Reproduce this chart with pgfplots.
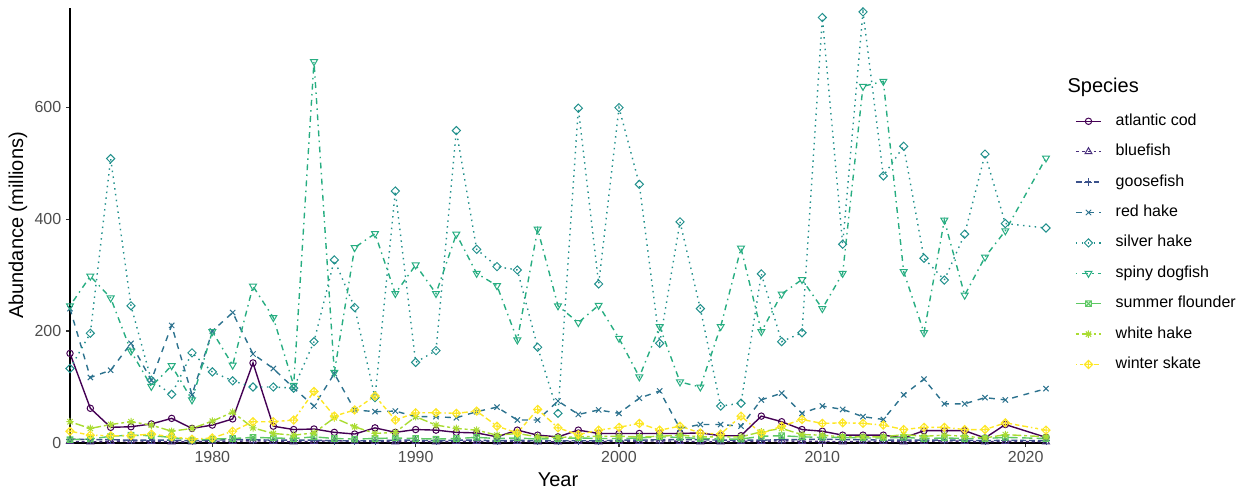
\documentclass[border=0pt]{standalone}
\usepackage{fontspec}
\setmainfont{Liberation Sans}
\usepackage{pgfplots}
\pgfplotsset{compat=1.18}
\usetikzlibrary{plotmarks}

\definecolor{c1}{HTML}{440154}
\definecolor{c2}{HTML}{472D7B}
\definecolor{c3}{HTML}{3B528B}
\definecolor{c4}{HTML}{2C728E}
\definecolor{c5}{HTML}{21908C}
\definecolor{c6}{HTML}{27AD81}
\definecolor{c7}{HTML}{5DC863}
\definecolor{c8}{HTML}{AADC32}
\definecolor{c9}{HTML}{FDE725}
\definecolor{tickgray}{HTML}{4D4D4D}

\pgfdeclareplotmark{boxx}{%
  \pgfpathrectangle{\pgfpoint{-0.8\pgfplotmarksize}{-0.8\pgfplotmarksize}}{\pgfpoint{1.6\pgfplotmarksize}{1.6\pgfplotmarksize}}%
  \pgfpathmoveto{\pgfpoint{-0.8\pgfplotmarksize}{-0.8\pgfplotmarksize}}%
  \pgfpathlineto{\pgfpoint{0.8\pgfplotmarksize}{0.8\pgfplotmarksize}}%
  \pgfpathmoveto{\pgfpoint{-0.8\pgfplotmarksize}{0.8\pgfplotmarksize}}%
  \pgfpathlineto{\pgfpoint{0.8\pgfplotmarksize}{-0.8\pgfplotmarksize}}%
  \pgfusepathqstroke}
\pgfdeclareplotmark{ggdiamond}{%
  \pgfpathmoveto{\pgfpoint{0pt}{1.1\pgfplotmarksize}}%
  \pgfpathlineto{\pgfpoint{1.1\pgfplotmarksize}{0pt}}%
  \pgfpathlineto{\pgfpoint{0pt}{-1.1\pgfplotmarksize}}%
  \pgfpathlineto{\pgfpoint{-1.1\pgfplotmarksize}{0pt}}%
  \pgfpathclose
  \pgfusepathqstroke}
\pgfdeclareplotmark{diamondplus}{%
  \pgfpathmoveto{\pgfpoint{0pt}{1.1\pgfplotmarksize}}%
  \pgfpathlineto{\pgfpoint{1.1\pgfplotmarksize}{0pt}}%
  \pgfpathlineto{\pgfpoint{0pt}{-1.1\pgfplotmarksize}}%
  \pgfpathlineto{\pgfpoint{-1.1\pgfplotmarksize}{0pt}}%
  \pgfpathclose
  \pgfpathmoveto{\pgfpoint{0pt}{1.1\pgfplotmarksize}}%
  \pgfpathlineto{\pgfpoint{0pt}{-1.1\pgfplotmarksize}}%
  \pgfpathmoveto{\pgfpoint{-1.1\pgfplotmarksize}{0pt}}%
  \pgfpathlineto{\pgfpoint{1.1\pgfplotmarksize}{0pt}}%
  \pgfusepathqstroke}
\pgfdeclareplotmark{star8}{%
  \pgfpathmoveto{\pgfpoint{0pt}{\pgfplotmarksize}}%
  \pgfpathlineto{\pgfpoint{0pt}{-\pgfplotmarksize}}%
  \pgfpathmoveto{\pgfpoint{-\pgfplotmarksize}{0pt}}%
  \pgfpathlineto{\pgfpoint{\pgfplotmarksize}{0pt}}%
  \pgfpathmoveto{\pgfpoint{-0.71\pgfplotmarksize}{-0.71\pgfplotmarksize}}%
  \pgfpathlineto{\pgfpoint{0.71\pgfplotmarksize}{0.71\pgfplotmarksize}}%
  \pgfpathmoveto{\pgfpoint{-0.71\pgfplotmarksize}{0.71\pgfplotmarksize}}%
  \pgfpathlineto{\pgfpoint{0.71\pgfplotmarksize}{-0.71\pgfplotmarksize}}%
  \pgfusepathqstroke}

\begin{document}
\begin{tikzpicture}
\begin{axis}[
  at={(0pt,0pt)}, anchor=south west,
  scale only axis, width=732pt, height=326.25pt,
  xmin=1973, xmax=2021, ymin=0, ymax=777,
  axis lines*=left,
  axis line style={-, black, line width=1pt},
  xtick={1980,1990,2000,2010,2020},
  ytick={0,200,400,600},
  tick align=outside, major tick length=3pt,
  tick style={color=black!80, line width=0.8pt},
  /pgf/number format/assume math mode=true,
  /pgf/number format/1000 sep={},
  ticklabel style={font=\fontsize{12}{14}\selectfont, text=tickgray},
  xlabel={Year}, ylabel={Abundance (millions)},
  every axis x label/.style={at={(axis description cs:0.5,-0.085)}, anchor=center, font=\fontsize{15}{18}\selectfont},
  every axis y label/.style={at={(axis description cs:-0.0533,0.5)}, rotate=90, anchor=center, font=\fontsize{15}{18}\selectfont},
  every axis plot/.append style={line width=1.05pt, mark size=2.6pt},
  legend image code/.code={\draw[mark repeat=2,mark phase=2] plot coordinates {(0pt,0pt)(9.4pt,0pt)(18.8pt,0pt)};},
  legend cell align=left,
  legend style={at={(axis description cs:1.0297,0.757)}, anchor=north west, draw=none, fill=none,
    inner sep=0pt, font=\fontsize{12}{14}\selectfont, row sep=11.8pt, column sep=10.5pt,
    nodes={inner sep=0pt, text height=8.5pt, text depth=2.5pt}},
]
% atlantic cod
\addplot[c1, solid, mark=o, mark options={solid, line width=0.75pt}, mark size=2.4pt] coordinates {
(1973,160)(1974,62)(1975,28)(1976,29)(1977,34)(1978,44)(1979,26)(1980,32)(1981,43)(1982,143)
(1983,30)(1984,24)(1985,25)(1986,19)(1987,16)(1988,27)(1989,19)(1990,24)(1991,23)(1992,19)
(1993,18)(1994,11)(1995,23)(1996,14)(1997,11)(1998,23)(1999,17)(2000,17)(2001,17)(2002,17)
(2003,17)(2004,18)(2005,13)(2006,13)(2007,48)(2008,38)(2009,24)(2010,21)(2011,14)(2012,14)
(2013,14)(2014,9)(2015,22)(2016,22)(2017,22)(2018,9)(2019,33)(2021,10)};
\addlegendentry{atlantic cod}
% bluefish
\addplot[c2, dash pattern=on 2.2pt off 2.2pt, mark=triangle, mark options={solid, line width=0.75pt}, mark size=3pt] coordinates {
(1973,3)(1974,2)(1975,3)(1976,4)(1977,3)(1978,2)(1979,2)(1980,3)(1981,3)(1982,4)
(1983,3)(1984,2)(1985,3)(1986,4)(1987,3)(1988,3)(1989,2)(1990,3)(1991,2)(1992,3)
(1993,3)(1994,2)(1995,3)(1996,2)(1997,2)(1998,3)(1999,2)(2000,3)(2001,3)(2002,4)
(2003,3)(2004,2)(2005,2)(2006,3)(2007,3)(2008,4)(2009,3)(2010,3)(2011,2)(2012,3)
(2013,3)(2014,2)(2015,3)(2016,4)(2017,3)(2018,2)(2019,3)(2021,2)};
\addlegendentry{bluefish}
% goosefish
\addplot[c3, dash pattern=on 4.4pt off 2.2pt, mark=+, mark options={solid, line width=0.75pt}, mark size=3pt] coordinates {
(1973,7)(1974,6)(1975,6)(1976,5)(1977,5)(1978,5)(1979,4)(1980,5)(1981,6)(1982,6)
(1983,5)(1984,5)(1985,5)(1986,4)(1987,4)(1988,4)(1989,5)(1990,5)(1991,4)(1992,5)
(1993,5)(1994,4)(1995,5)(1996,4)(1997,4)(1998,4)(1999,4)(2000,5)(2001,5)(2002,6)
(2003,6)(2004,6)(2005,5)(2006,5)(2007,5)(2008,6)(2009,6)(2010,7)(2011,6)(2012,6)
(2013,5)(2014,5)(2015,5)(2016,5)(2017,5)(2018,4)(2019,5)(2021,4)};
\addlegendentry{goosefish}
% red hake
\addplot[c4, dash pattern=on 4.4pt off 4.4pt, mark=x, mark options={solid, line width=0.75pt}, mark size=2.8pt] coordinates {
(1973,240)(1974,117)(1975,130)(1976,178)(1977,112)(1978,210)(1979,86)(1980,200)(1981,233)(1982,159)
(1983,133)(1984,98)(1985,66)(1986,124)(1987,59)(1988,56)(1989,57)(1990,47)(1991,47)(1992,45)
(1993,56)(1994,64)(1995,41)(1996,41)(1997,75)(1998,51)(1999,59)(2000,53)(2001,80)(2002,93)
(2003,26)(2004,33)(2005,33)(2006,30)(2007,77)(2008,89)(2009,53)(2010,66)(2011,60)(2012,47)
(2013,42)(2014,86)(2015,114)(2016,70)(2017,70)(2018,81)(2019,77)(2021,97)};
\addlegendentry{red hake}
% silver hake
\addplot[c5, dash pattern=on 1.1pt off 3.3pt, mark=ggdiamond, mark options={solid, line width=0.75pt}, mark size=2.8pt] coordinates {
(1973,133)(1974,196)(1975,508)(1976,245)(1977,112)(1978,87)(1979,161)(1980,127)(1981,111)(1982,100)
(1983,100)(1984,98)(1985,181)(1986,327)(1987,242)(1988,81)(1989,450)(1990,144)(1991,165)(1992,558)
(1993,346)(1994,315)(1995,309)(1996,171)(1997,53)(1998,598)(1999,284)(2000,599)(2001,462)(2002,178)
(2003,395)(2004,240)(2005,66)(2006,71)(2007,302)(2008,181)(2009,197)(2010,760)(2011,355)(2012,770)
(2013,477)(2014,530)(2015,330)(2016,291)(2017,373)(2018,516)(2019,392)(2021,384)};
\addlegendentry{silver hake}
% spiny dogfish
\addplot[c6, dash pattern=on 1.1pt off 3.3pt on 4.4pt off 3.3pt, mark=triangle, mark options={solid, rotate=180, line width=0.75pt}, mark size=3pt] coordinates {
(1973,245)(1974,298)(1975,259)(1976,164)(1977,101)(1978,138)(1979,77)(1980,199)(1981,139)(1982,280)
(1983,224)(1984,103)(1985,681)(1986,126)(1987,349)(1988,374)(1989,267)(1990,318)(1991,267)(1992,373)
(1993,303)(1994,281)(1995,184)(1996,382)(1997,245)(1998,215)(1999,246)(2000,187)(2001,118)(2002,208)
(2003,109)(2004,100)(2005,208)(2006,348)(2007,199)(2008,266)(2009,292)(2010,240)(2011,303)(2012,637)
(2013,646)(2014,306)(2015,197)(2016,398)(2017,264)(2018,332)(2019,379)(2021,509)};
\addlegendentry{spiny dogfish}
% summer flounder
\addplot[c7, dash pattern=on 7.7pt off 3.3pt, mark=boxx, mark options={solid, line width=0.75pt}, mark size=2.6pt] coordinates {
(1973,6)(1974,7)(1975,12)(1976,14)(1977,13)(1978,10)(1979,5)(1980,7)(1981,8)(1982,10)
(1983,9)(1984,8)(1985,11)(1986,8)(1987,7)(1988,8)(1989,9)(1990,8)(1991,7)(1992,8)
(1993,10)(1994,8)(1995,9)(1996,7)(1997,8)(1998,9)(1999,8)(2000,8)(2001,9)(2002,11)
(2003,10)(2004,8)(2005,7)(2006,7)(2007,12)(2008,13)(2009,11)(2010,10)(2011,10)(2012,9)
(2013,9)(2014,10)(2015,8)(2016,9)(2017,8)(2018,8)(2019,10)(2021,8)};
\addlegendentry{summer flounder}
% white hake
\addplot[c8, dash pattern=on 2.2pt off 2.2pt on 6.6pt off 2.2pt, mark=star8, mark options={solid, line width=0.75pt}, mark size=2.8pt] coordinates {
(1973,38)(1974,26)(1975,33)(1976,38)(1977,32)(1978,21)(1979,26)(1980,39)(1981,55)(1982,27)
(1983,17)(1984,14)(1985,18)(1986,45)(1987,29)(1988,17)(1989,19)(1990,47)(1991,32)(1992,26)
(1993,23)(1994,14)(1995,17)(1996,11)(1997,10)(1998,11)(1999,12)(2000,12)(2001,11)(2002,12)
(2003,14)(2004,11)(2005,11)(2006,11)(2007,20)(2008,26)(2009,15)(2010,14)(2011,11)(2012,11)
(2013,11)(2014,15)(2015,12)(2016,14)(2017,12)(2018,9)(2019,15)(2021,11)};
\addlegendentry{white hake}
% winter skate
\addplot[c9, dash pattern=on 1.1pt off 2.2pt on 2.2pt off 2.2pt on 3.3pt off 2.2pt on 4.4pt off 2.2pt, mark=diamondplus, mark options={solid, line width=0.75pt}, mark size=2.8pt] coordinates {
(1973,21)(1974,14)(1975,13)(1976,13)(1977,16)(1978,11)(1979,7)(1980,9)(1981,21)(1982,38)
(1983,38)(1984,41)(1985,92)(1986,48)(1987,59)(1988,84)(1989,41)(1990,54)(1991,54)(1992,53)
(1993,57)(1994,30)(1995,18)(1996,60)(1997,27)(1998,15)(1999,23)(2000,28)(2001,35)(2002,23)
(2003,30)(2004,18)(2005,16)(2006,48)(2007,17)(2008,30)(2009,42)(2010,35)(2011,36)(2012,35)
(2013,32)(2014,24)(2015,28)(2016,28)(2017,24)(2018,24)(2019,36)(2021,23)};
\addlegendentry{winter skate}
\end{axis}
\node[anchor=west, font=\fontsize{15}{18}\selectfont] at (744.7pt,267pt) {Species};
\pgfresetboundingbox
\path (-52.5pt,-36pt) rectangle (877.5pt,332.25pt);
\end{tikzpicture}
\end{document}
